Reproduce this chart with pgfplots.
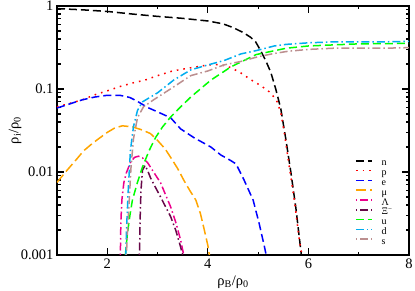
\documentclass[border=0pt]{standalone}
\usepackage{fontspec}
\setmainfont{Liberation Serif}
\usepackage{pgfplots}
\pgfplotsset{compat=1.18}
\definecolor{gorange}{RGB}{255,165,0}
\definecolor{gmaroon}{RGB}{103,7,72}
\definecolor{ggreen}{RGB}{0,255,0}
\definecolor{gbrown}{RGB}{188,143,143}
\begin{document}
\begin{tikzpicture}
\begin{axis}[
  scale only axis, width=352pt, height=249pt,
  ymode=log, xmin=1, xmax=8, ymin=0.001, ymax=1,
  xtick={2,4,6,8}, minor xtick={3,5,7},
  ytick={0.001,0.01,0.1,1}, yticklabels={0.001,0.01,0.1,1},
  xticklabels={2,4,6,8},
  /pgf/number format/assume math mode=true,
  tick label style={font=\fontsize{14.5}{16}\selectfont},
  label style={font=\fontsize{14.5}{16}\selectfont},
  tick align=inside, major tick length=7pt, minor tick length=3.5pt,
  axis line style={line width=1.4pt},
  every tick/.style={line width=1.1pt, black},
  xlabel={ρ\textsubscript{B}/ρ\textsubscript{0}},
  ylabel={ρ\textsubscript{i}/ρ\textsubscript{0}},
  xlabel style={at={(axis description cs:0.5,-0.108)}, anchor=center},
  ylabel style={at={(axis description cs:-0.119,0.5)}, anchor=center},
  legend style={draw=none, fill=none, font=\fontsize{10}{11}\selectfont,
     at={(rel axis cs:0.8466,0.383)}, anchor=north west, inner sep=0pt,
     row sep=2.8pt, column sep=9pt, nodes={inner sep=0pt, text height=6pt, text depth=1pt}},
  legend cell align=left,
  every axis plot post/.append style={legend image code/.code={\draw[##1] (0pt,2.5pt) -- (16pt,2.5pt);}},
  every axis plot/.append style={line width=1.5pt},
]
\addplot[black, dash pattern=on 8pt off 4pt] coordinates {
(1,0.93)(1.5,0.9)(2,0.86)(2.5,0.8)(3,0.75)(3.5,0.71)(4,0.66)(4.3,0.61)(4.5,0.55)(4.7,0.48)(4.85,0.42)(4.95,0.37)(5.05,0.29)(5.15,0.22)(5.25,0.16)(5.35,0.1)(5.45,0.058)(5.55,0.025)(5.65,0.01)(5.75,0.0037)(5.82,0.0016)(5.86,0.001)};
\addlegendentry{n}
\addplot[red, line cap=butt, dash pattern=on 1.6pt off 5pt] coordinates {
(1,0.061)(1.25,0.067)(1.5,0.074)(1.75,0.085)(2.0,0.095)(2.25,0.107)(2.5,0.118)(2.75,0.128)(3.0,0.145)(3.3,0.165)(3.66,0.18)(4.0,0.195)(4.25,0.197)(4.45,0.182)(4.65,0.157)(4.85,0.13)(5.05,0.11)(5.25,0.09)(5.38,0.07)(5.45,0.052)(5.52,0.03)(5.62,0.0115)(5.72,0.0046)(5.82,0.0015)(5.87,0.001)};
\addlegendentry{p}
\addplot[blue, dash pattern=on 8pt off 4pt] coordinates {
(1,0.059)(1.25,0.066)(1.5,0.074)(1.75,0.08)(2.0,0.084)(2.25,0.084)(2.45,0.079)(2.6,0.071)(2.8,0.06)(3.0,0.053)(3.26,0.045)(3.46,0.033)(3.72,0.026)(4.06,0.02)(4.26,0.016)(4.45,0.0138)(4.56,0.0125)(4.72,0.008)(4.9,0.0046)(5.02,0.0024)(5.12,0.0013)(5.16,0.001)};
\addlegendentry{e}
\addplot[gorange, dash pattern=on 10pt off 4pt] coordinates {
(1,0.0075)(1.2,0.0105)(1.4,0.0145)(1.53,0.018)(1.7,0.022)(1.86,0.026)(2.0,0.03)(2.15,0.034)(2.3,0.036)(2.5,0.035)(2.7,0.032)(2.86,0.029)(3.0,0.024)(3.15,0.019)(3.26,0.015)(3.4,0.011)(3.52,0.008)(3.64,0.006)(3.76,0.0046)(3.85,0.0032)(3.93,0.002)(4.0,0.0013)(4.03,0.001)};
\addlegendentry{μ}
\addplot[magenta, dash pattern=on 1.5pt off 3pt on 8pt off 3pt] coordinates {
(2.26,0.001)(2.27,0.0025)(2.29,0.0046)(2.33,0.0075)(2.38,0.0098)(2.46,0.013)(2.54,0.015)(2.62,0.0155)(2.7,0.0148)(2.8,0.013)(2.93,0.0098)(3.06,0.0074)(3.16,0.0053)(3.26,0.0038)(3.36,0.0025)(3.46,0.0015)(3.52,0.001)};
\addlegendentry{Λ}
\addplot[gmaroon, dash pattern=on 1.5pt off 3pt on 8pt off 3pt] coordinates {
(2.64,0.001)(2.655,0.003)(2.67,0.006)(2.7,0.0105)(2.75,0.012)(2.8,0.0105)(2.86,0.0085)(2.96,0.0065)(3.06,0.005)(3.16,0.0038)(3.26,0.0029)(3.36,0.002)(3.45,0.0013)(3.5,0.001)};
\addlegendentry{Ξ\textsuperscript{−}}
\addplot[ggreen, dash pattern=on 8pt off 4pt] coordinates {
(2.36,0.001)(2.4,0.0018)(2.45,0.003)(2.5,0.0046)(2.6,0.0075)(2.7,0.0115)(2.83,0.018)(2.96,0.026)(3.1,0.035)(3.26,0.046)(3.46,0.061)(3.66,0.08)(4.06,0.128)(4.46,0.185)(4.96,0.26)(5.56,0.31)(6.0,0.33)(6.5,0.34)(7,0.35)(7.5,0.352)(8,0.355)};
\addlegendentry{u}
\addplot[cyan, dash pattern=on 8pt off 3pt on 1.5pt off 3pt] coordinates {
(2.37,0.001)(2.38,0.0019)(2.42,0.0066)(2.46,0.018)(2.52,0.035)(2.6,0.055)(2.7,0.07)(3.0,0.09)(3.32,0.128)(3.66,0.17)(4.0,0.195)(4.32,0.22)(4.66,0.265)(4.96,0.29)(5.32,0.33)(5.56,0.345)(6,0.36)(6.5,0.37)(7,0.37)(7.5,0.37)(8,0.375)};
\addlegendentry{d}
\addplot[gbrown, dash pattern=on 1.5pt off 3pt on 8pt off 3pt] coordinates {
(2.38,0.001)(2.4,0.0018)(2.44,0.005)(2.47,0.011)(2.52,0.025)(2.6,0.045)(2.72,0.061)(2.92,0.074)(3.32,0.106)(3.66,0.145)(4.0,0.165)(4.32,0.195)(4.66,0.215)(5.0,0.245)(5.32,0.268)(5.6,0.285)(6,0.3)(6.5,0.31)(7,0.31)(7.5,0.31)(8,0.315)};
\addlegendentry{s}
\end{axis}
\pgfresetboundingbox
\path (-57pt,-36pt) rectangle (358pt,255pt);
\end{tikzpicture}
\end{document}
